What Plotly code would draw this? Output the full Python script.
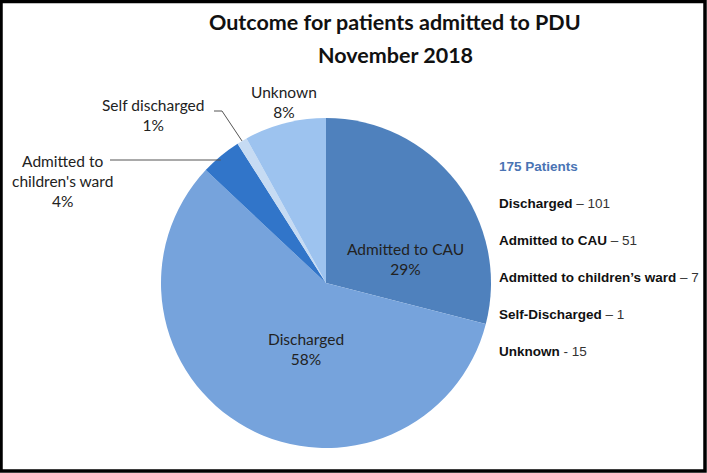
import math
import plotly.graph_objects as go

W, H = 707, 473

# Data
slice_labels = ["Admitted to CAU", "Discharged", "Admitted to children's ward", "Self discharged", "Unknown"]
slice_label_text = ["Admitted to CAU", "Discharged", "Admitted to<br>children's ward", "Self discharged", "Unknown"]
slice_percent = [29, 58, 4, 1, 8]
slice_colors = ["#4f81bd", "#76a3dc", "#3175c9", "#c6dbf3", "#9dc3ef"]

total_patients = 175
count_names = ["Discharged", "Admitted to CAU", "Admitted to children\u2019s ward", "Self-Discharged", "Unknown"]
count_values = [101, 51, 7, 1, 15]
count_seps = ["\u2013", "\u2013", "\u2013", "\u2013", "-"]

# Pie geometry (pixels)
cx, cy, R = 326, 283, 165
dom_x = [(cx - R) / W, (cx + R) / W]
dom_y = [(H - (cy + R)) / H, (H - (cy - R)) / H]

fig = go.Figure(go.Pie(
    labels=slice_labels,
    values=slice_percent,
    sort=False,
    direction="clockwise",
    rotation=0,
    textinfo="none",
    hoverinfo="label+percent",
    marker=dict(colors=slice_colors, line=dict(width=0)),
    domain=dict(x=dom_x, y=dom_y),
    showlegend=False,
))

def px(x, y):
    return x / W, 1 - y / H

annotations = []
shapes = []

def add_text(text, x, y, size=15, color="#222222", family="Lato", xanchor="center"):
    ax, ay = px(x, y)
    annotations.append(dict(text=text, x=ax, y=ay, xref="paper", yref="paper",
                            showarrow=False, xanchor=xanchor, yanchor="middle",
                            font=dict(family=family, size=size, color=color)))

# Slice mid angles (clockwise from 12 o'clock)
cum = 0
mids = []
tot = sum(slice_percent)
for v in slice_percent:
    mids.append((cum + v / 2) / tot * 2 * math.pi)
    cum += v

def edge_point(i, r=R):
    a = mids[i]
    return cx + r * math.sin(a), cy - r * math.cos(a)

# Slice labels
lab_pos = {0: (406, 259), 1: (306, 349), 2: (62, 181), 3: (153, 115), 4: (284, 102)}
for i, (x, y) in lab_pos.items():
    add_text(f"{slice_label_text[i]}<br>{slice_percent[i]}%", x, y, size=15.5, color="#222222")

# Leader lines
def add_line(pts):
    path = ""
    for k, (x, y) in enumerate(pts):
        ax, ay = px(x, y)
        path += ("M" if k == 0 else "L") + f"{ax},{ay} "
    shapes.append(dict(type="path", path=path, xref="paper", yref="paper",
                       line=dict(color="#555555", width=1)))

ex, ey = edge_point(3)
add_line([(214, 111), (222, 111), (ex, ey)])
ex, ey = edge_point(2)
add_line([(110, 160), (ex, 160)])

# Title
add_text("<b>Outcome for patients admitted to PDU</b>", 395, 22, size=21.5, color="#111111", family="Lato")
add_text("<b>November 2018</b>", 395, 55, size=21.5, color="#111111", family="Lato")

# Right-hand summary
add_text(f"<b>{total_patients} Patients</b>", 497, 166, size=13.5, color="#4a74b4",
         family="Liberation Sans", xanchor="left")
for k, (n, v, s) in enumerate(zip(count_names, count_values, count_seps)):
    add_text(f"<b>{n}</b> <span style='color:#333333'>{s} {v}</span>", 497, 203 + 37.2 * k,
             size=13.5, color="#111111", family="Liberation Sans", xanchor="left")

# Border
shapes.append(dict(type="rect", xref="paper", yref="paper",
                   x0=1 / W, x1=(W - 2) / W, y0=2 / H, y1=(H - 1.5) / H,
                   line=dict(color="black", width=3.5)))

fig.update_layout(
    width=W, height=H,
    margin=dict(l=0, r=0, t=0, b=0),
    paper_bgcolor="white", plot_bgcolor="white",
    annotations=annotations, shapes=shapes,
)

fig.write_html("out.html", config={"displayModeBar": False},
               post_script="document.body.style.margin='0';document.body.style.overflow='hidden';")
